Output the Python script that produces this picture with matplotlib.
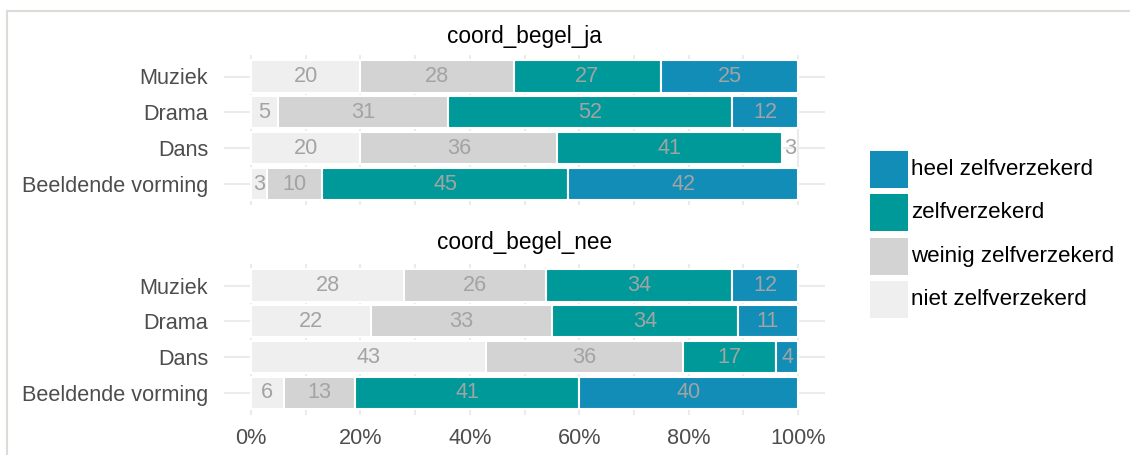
import matplotlib
matplotlib.use("Agg")
import matplotlib.pyplot as plt
from matplotlib.patches import Rectangle
from matplotlib.lines import Line2D
import numpy as np

plt.rcParams['font.family'] = ['Liberation Sans', 'DejaVu Sans']

# ---- data ----
panels = ["coord_begel_ja", "coord_begel_nee"]
categories = ["Muziek", "Drama", "Dans", "Beeldende vorming"]
levels = ["niet zelfverzekerd", "weinig zelfverzekerd", "zelfverzekerd", "heel zelfverzekerd"]
colors = ["#EFEFEF", "#D3D3D3", "#009999", "#118DB8"]

# values per level (niet, weinig, zelf, heel) per category
ja_niet = [20, 5, 20, 3]
ja_weinig = [28, 31, 36, 10]
ja_zelf = [27, 52, 41, 45]
ja_heel = [25, 12, 3, 42]

nee_niet = [28, 22, 43, 6]
nee_weinig = [26, 33, 36, 13]
nee_zelf = [34, 34, 17, 41]
nee_heel = [12, 11, 4, 40]

# segments that appear without a drawn bar in the original (label only)
hidden_bars = [("coord_begel_ja", "Dans", "heel zelfverzekerd")]

tick_vals = [0, 20, 40, 60, 80, 100]
tick_labels = ["0%", "20%", "40%", "60%", "80%", "100%"]

data = {
    "coord_begel_ja": [ja_niet, ja_weinig, ja_zelf, ja_heel],
    "coord_begel_nee": [nee_niet, nee_weinig, nee_zelf, nee_heel],
}

W, H = 1130, 455
fig = plt.figure(figsize=(W / 100, H / 100), dpi=100)

def fx(px):
    return px / W

def fy(py):
    return 1 - py / H

grid_col = "#EBEBEB"
label_col = "#A3A3A3"
fs = 15.6
fs_title = 16.3
fs_leg = 16.1

left_px, right_px = 223.6, 825.4
panel_tops = [55.0, 264.0]
panel_h = 150.5
title_y = [37, 243]

for pi, panel in enumerate(panels):
    top = panel_tops[pi]
    ax = fig.add_axes([fx(left_px), fy(top + panel_h), fx(right_px) - fx(left_px), panel_h / H])
    ax.set_xlim(-5, 105)
    ax.set_ylim(len(categories) - 0.4, -0.6)
    for s in ax.spines.values():
        s.set_visible(False)
    ax.set_facecolor("white")
    ypos = np.arange(len(categories))
    ax.set_yticks(ypos)
    ax.set_yticklabels(categories, fontsize=fs, color="#4D4D4D")
    ax.set_xticks(tick_vals)
    ax.set_xticks([10, 30, 50, 70, 90], minor=True)
    if pi == 1:
        ax.set_xticklabels(tick_labels, fontsize=fs, color="#4D4D4D")
    else:
        ax.set_xticklabels([])
    ax.tick_params(axis="both", which="both", length=0)
    ax.tick_params(axis="y", pad=11)
    ax.tick_params(axis="x", pad=10)
    ax.grid(True, which="major", color=grid_col, linewidth=1.5)
    ax.grid(True, which="minor", axis="x", color=grid_col, linewidth=1.5)
    ax.set_axisbelow(True)

    vals = data[panel]
    left = np.zeros(len(categories))
    for li, lev in enumerate(levels):
        v = np.array(vals[li], dtype=float)
        for ci, cat in enumerate(categories):
            hidden = (panel, cat, lev) in hidden_bars
            if not hidden:
                ax.barh(ci, v[ci], left=left[ci], height=0.9, color=colors[li],
                        edgecolor="white", linewidth=1.5, zorder=3)
            ax.text(left[ci] + v[ci] / 2, ci, f"{int(round(v[ci]))}", ha="center",
                    va="center", fontsize=fs, color=label_col, zorder=4)
        left += v

    fig.text(fx((left_px + right_px) / 2), fy(title_y[pi]), panel, ha="center",
             va="center", fontsize=fs_title, color="black")

# ---- legend ----
leg_order = [3, 2, 1, 0]
leg_tops = [151, 194, 238, 281]
for k, li in enumerate(leg_order):
    t = leg_tops[k]
    fig.add_artist(Rectangle((fx(870), fy(t + 37)), 38 / W, 37 / H,
                             facecolor=colors[li], edgecolor="none",
                             transform=fig.transFigure))
    fig.text(fx(911), fy(t + 18.5), levels[li], ha="left", va="center",
             fontsize=fs_leg, color="black")

# ---- outer frame ----
frame_col = "#DEDAD5"
fig.add_artist(Line2D([fx(7), fx(7)], [fy(11), 0], color=frame_col, linewidth=1.5,
                      transform=fig.transFigure))
fig.add_artist(Line2D([fx(7), 1], [fy(11), fy(11)], color=frame_col, linewidth=1.5,
                      transform=fig.transFigure))

fig.savefig("out.png", dpi=100, facecolor="white")
